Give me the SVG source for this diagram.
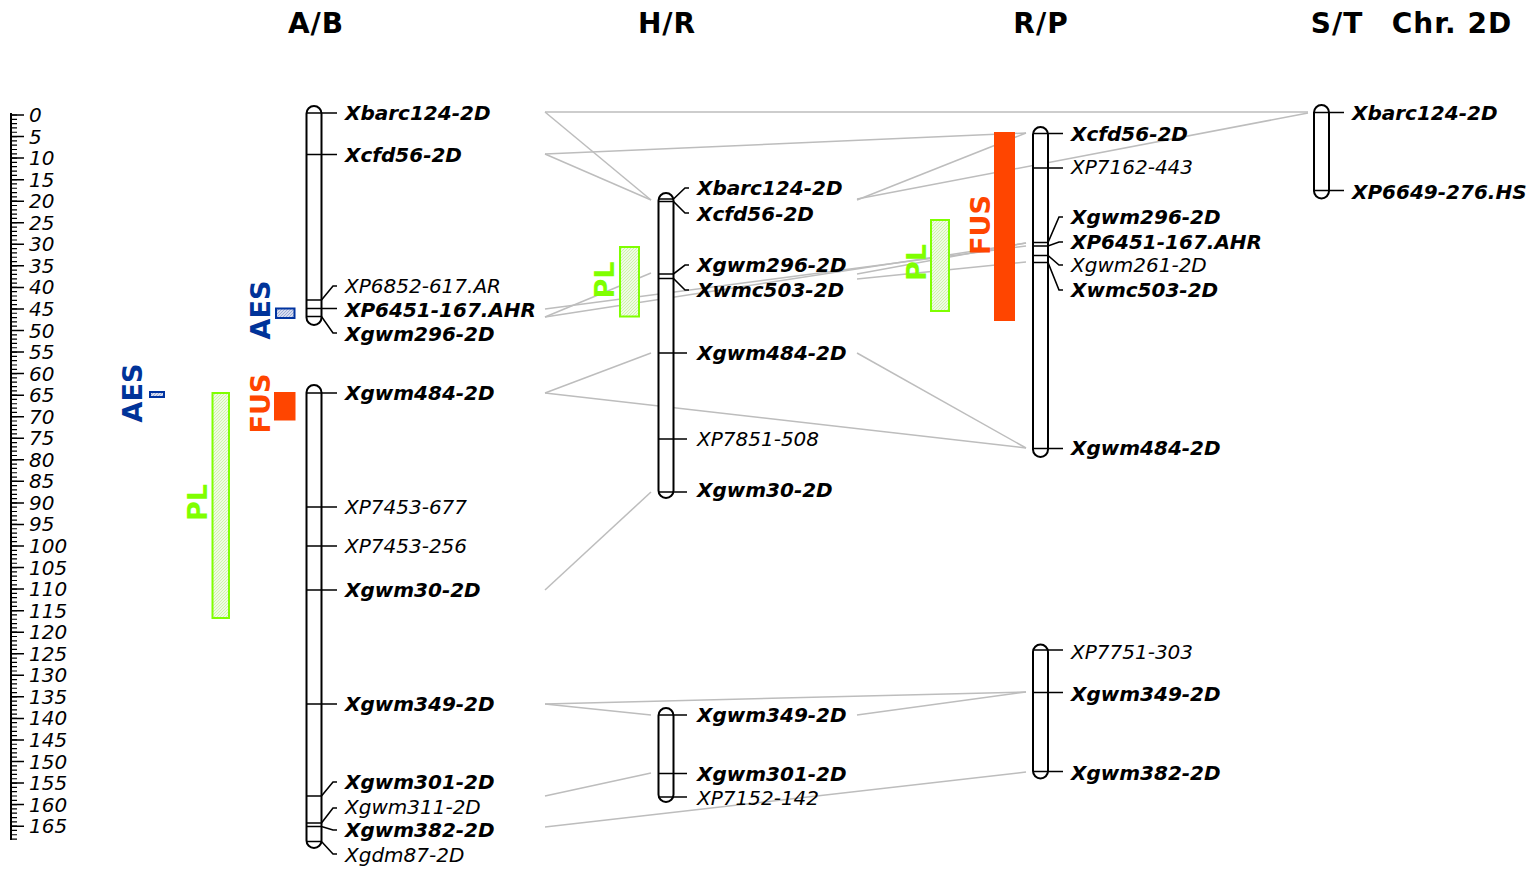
<svg xmlns="http://www.w3.org/2000/svg" width="1539" height="874" viewBox="0 0 1539 874">
<style>
text{font-family:"DejaVu Sans","Liberation Sans",sans-serif;}
.t{font-size:28px;font-weight:bold;text-anchor:middle;fill:#000;letter-spacing:1px}
.r{font-size:20px;font-style:italic;fill:#000}
.m{font-size:20px;font-style:italic;fill:#000}
.b{font-weight:bold}
.ch{fill:#fff;stroke:#000;stroke-width:2}
.tk{stroke:#000;stroke-width:1.6;fill:none}
.cn line{stroke:#bdbdbd;stroke-width:1.5}
.q{font-size:27px;font-weight:bold;text-anchor:middle}
.aes{fill:#003399}
.fus{fill:#ff4500}
.pl{fill:#7fff00}
.plbar{fill:url(#hg);stroke:#7fff00;stroke-width:2}
.aesbar{fill:url(#hb);stroke:#0033a0;stroke-width:2}
</style>
<defs>
<pattern id="hg" width="3" height="3" patternUnits="userSpaceOnUse">
<rect width="3" height="3" fill="#effbe4"/>
<path d="M0 3L3 0" stroke="#c6f0a0" stroke-width="0.8"/>
</pattern>
<pattern id="hb" width="3" height="3" patternUnits="userSpaceOnUse">
<rect width="3" height="3" fill="#d6dcee"/>
<path d="M0 3L3 0" stroke="#8fa0cf" stroke-width="0.8"/>
</pattern>
</defs>
<rect width="1539" height="874" fill="#fff"/>

<g id="titles">
<text class="t" x="316" y="33">A/B</text>
<text class="t" x="667" y="33">H/R</text>
<text class="t" x="1041" y="33">R/P</text>
<text class="t" x="1337" y="33">S/T</text>
<text class="t" x="1452" y="33">Chr. 2D</text>
</g>

<g id="ruler">
<line x1="11" y1="113" x2="11" y2="840" stroke="#000" stroke-width="2"/>
<line x1="14" y1="114.4" x2="14" y2="840" stroke="#000" stroke-width="6" stroke-dasharray="1.2 3.11"/>
<line x1="17.5" y1="114.25" x2="17.5" y2="840" stroke="#000" stroke-width="13" stroke-dasharray="1.5 20.05"/>
<text class="r" x="29" y="122">0</text>
<text class="r" x="29" y="143.55">5</text>
<text class="r" x="29" y="165.1">10</text>
<text class="r" x="29" y="186.65">15</text>
<text class="r" x="29" y="208.2">20</text>
<text class="r" x="29" y="229.75">25</text>
<text class="r" x="29" y="251.3">30</text>
<text class="r" x="29" y="272.85">35</text>
<text class="r" x="29" y="294.4">40</text>
<text class="r" x="29" y="315.95">45</text>
<text class="r" x="29" y="337.5">50</text>
<text class="r" x="29" y="359.05">55</text>
<text class="r" x="29" y="380.6">60</text>
<text class="r" x="29" y="402.15">65</text>
<text class="r" x="29" y="423.7">70</text>
<text class="r" x="29" y="445.25">75</text>
<text class="r" x="29" y="466.8">80</text>
<text class="r" x="29" y="488.35">85</text>
<text class="r" x="29" y="509.9">90</text>
<text class="r" x="29" y="531.45">95</text>
<text class="r" x="29" y="553">100</text>
<text class="r" x="29" y="574.55">105</text>
<text class="r" x="29" y="596.1">110</text>
<text class="r" x="29" y="617.65">115</text>
<text class="r" x="29" y="639.2">120</text>
<text class="r" x="29" y="660.75">125</text>
<text class="r" x="29" y="682.3">130</text>
<text class="r" x="29" y="703.85">135</text>
<text class="r" x="29" y="725.4">140</text>
<text class="r" x="29" y="746.95">145</text>
<text class="r" x="29" y="768.5">150</text>
<text class="r" x="29" y="790.05">155</text>
<text class="r" x="29" y="811.6">160</text>
<text class="r" x="29" y="833.15">165</text>
</g>

<g id="connectors" class="cn">
<line x1="545" y1="112" x2="651" y2="200"/>
<line x1="545" y1="112" x2="1308" y2="112"/>
<line x1="545" y1="154" x2="651" y2="200"/>
<line x1="545" y1="154" x2="1026" y2="133"/>
<line x1="545" y1="317" x2="651" y2="273"/>
<line x1="545" y1="317" x2="1026" y2="243"/>
<line x1="545" y1="309" x2="1026" y2="246"/>
<line x1="545" y1="393" x2="651" y2="353"/>
<line x1="545" y1="393" x2="1026" y2="448"/>
<line x1="545" y1="590" x2="651" y2="492"/>
<line x1="545" y1="704" x2="651" y2="715"/>
<line x1="545" y1="704" x2="1026" y2="692"/>
<line x1="545" y1="796" x2="651" y2="773"/>
<line x1="545" y1="827" x2="1026" y2="772"/>
<line x1="857" y1="199" x2="1308" y2="113"/>
<line x1="857" y1="200" x2="1026" y2="133"/>
<line x1="857" y1="274" x2="1026" y2="243"/>
<line x1="857" y1="279" x2="1026" y2="262"/>
<line x1="857" y1="353" x2="1026" y2="448"/>
<line x1="857" y1="715" x2="1026" y2="692"/>
</g>

<g id="qtl-AB">
<text class="q aes" transform="translate(141.5 393) rotate(-90)">AES</text>
<rect class="aesbar" x="150" y="392" width="14" height="5"/>
<text class="q pl" transform="translate(207 502.5) rotate(-90)">PL</text>
<rect class="plbar" x="212.5" y="393" width="16.5" height="225"/>
<text class="q aes" transform="translate(270 310) rotate(-90)">AES</text>
<rect class="aesbar" x="276" y="308.5" width="18.5" height="9.5"/>
<text class="q fus" transform="translate(270 403.5) rotate(-90)">FUS</text>
<rect class="fus" x="274" y="392" width="21.5" height="28.5"/>
</g>

<g id="chr-AB">
<rect class="ch" x="306.5" y="106" width="15" height="219" rx="7.5"/>
<rect class="ch" x="306.5" y="385" width="15" height="463" rx="7.5"/>
<path class="tk" d="M306.5 113H337M306.5 154.5H337M306.5 300H321.5L333 286H337M306.5 308.5H337M306.5 316.5H321.5L333 333H337"/>
<path class="tk" d="M306.5 393H337M306.5 507H337M306.5 546H337M306.5 590H337M306.5 704H337M306.5 796H321.5L333 782H337M306.5 823H321.5L333 808H337M306.5 826.5H321.5L333 830H337M306.5 841.5H321.5L333 854H337"/>
<text class="m b" x="345" y="120">Xbarc124-2D</text>
<text class="m b" x="345" y="162">Xcfd56-2D</text>
<text class="m" x="345" y="293">XP6852-617.AR</text>
<text class="m b" x="345" y="317">XP6451-167.AHR</text>
<text class="m b" x="345" y="341">Xgwm296-2D</text>
<text class="m b" x="345" y="400">Xgwm484-2D</text>
<text class="m" x="345" y="514">XP7453-677</text>
<text class="m" x="345" y="553">XP7453-256</text>
<text class="m b" x="345" y="597">Xgwm30-2D</text>
<text class="m b" x="345" y="711">Xgwm349-2D</text>
<text class="m b" x="345" y="789">Xgwm301-2D</text>
<text class="m" x="345" y="814">Xgwm311-2D</text>
<text class="m b" x="345" y="837">Xgwm382-2D</text>
<text class="m" x="345" y="862">Xgdm87-2D</text>
</g>

<g id="qtl-HR">
<text class="q pl" transform="translate(614 280) rotate(-90)">PL</text>
<rect class="plbar" x="620" y="247" width="19" height="69.5"/>
</g>

<g id="chr-HR">
<rect class="ch" x="658.5" y="193" width="15" height="305" rx="7.5"/>
<rect class="ch" x="658.5" y="708" width="15" height="94" rx="7.5"/>
<path class="tk" d="M658.5 199H673.5L685 188H689M658.5 201.5H673.5L685 213H689M658.5 274H673.5L685 265H689M658.5 278.5H673.5L685 290H689M658.5 353H687M658.5 439H687M658.5 492H687"/>
<path class="tk" d="M658.5 715H687M658.5 773.5H687M658.5 797H687"/>
<text class="m b" x="697" y="195">Xbarc124-2D</text>
<text class="m b" x="697" y="221">Xcfd56-2D</text>
<text class="m b" x="697" y="272">Xgwm296-2D</text>
<text class="m b" x="697" y="297">Xwmc503-2D</text>
<text class="m b" x="697" y="360">Xgwm484-2D</text>
<text class="m" x="697" y="446">XP7851-508</text>
<text class="m b" x="697" y="497">Xgwm30-2D</text>
<text class="m b" x="697" y="722">Xgwm349-2D</text>
<text class="m b" x="697" y="781">Xgwm301-2D</text>
<text class="m" x="697" y="805">XP7152-142</text>
</g>

<g id="qtl-RP">
<text class="q pl" transform="translate(926 262.5) rotate(-90)">PL</text>
<rect class="plbar" x="931" y="220" width="18" height="91"/>
<text class="q fus" transform="translate(990 225) rotate(-90)">FUS</text>
<rect class="fus" x="994" y="132" width="21" height="189"/>
</g>

<g id="chr-RP">
<rect class="ch" x="1033" y="127" width="15" height="330" rx="7.5"/>
<rect class="ch" x="1033" y="644.5" width="15" height="134" rx="7.5"/>
<path class="tk" d="M1033 133.5H1063M1033 168H1063M1033 242.5H1048L1059 217H1063M1033 246H1048L1059 242H1063M1033 255.5H1048L1059 265H1063M1033 262.5H1048L1059 290H1063M1033 448.5H1063"/>
<path class="tk" d="M1033 650H1063M1033 692.5H1063M1033 771.5H1063"/>
<text class="m b" x="1071" y="141">Xcfd56-2D</text>
<text class="m" x="1071" y="174">XP7162-443</text>
<text class="m b" x="1071" y="224">Xgwm296-2D</text>
<text class="m b" x="1071" y="249">XP6451-167.AHR</text>
<text class="m" x="1071" y="272">Xgwm261-2D</text>
<text class="m b" x="1071" y="297">Xwmc503-2D</text>
<text class="m b" x="1071" y="455">Xgwm484-2D</text>
<text class="m" x="1071" y="659">XP7751-303</text>
<text class="m b" x="1071" y="701">Xgwm349-2D</text>
<text class="m b" x="1071" y="780">Xgwm382-2D</text>
</g>

<g id="chr-ST">
<rect class="ch" x="1314" y="105" width="15" height="93.5" rx="7.5"/>
<path class="tk" d="M1314 112.5H1344M1314 190.5H1344"/>
<text class="m b" x="1352" y="120">Xbarc124-2D</text>
<text class="m b" x="1352" y="199">XP6649-276.HS</text>
</g>
</svg>
